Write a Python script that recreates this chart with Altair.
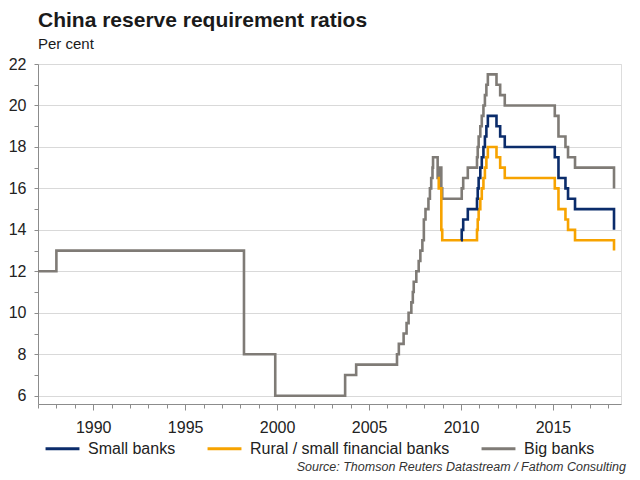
import altair as alt
import pandas as pd

FONT = "Liberation Sans"

series_names = ["Small banks", "Rural / small financial banks", "Big banks"]
series_colors = ["#0b2c6b", "#f7a300", "#7f7b76"]

big_years = [1987.0, 1988.0, 1998.2, 1999.9, 2003.7, 2004.3, 2006.52, 2006.62, 2006.88,
             2007.04, 2007.15, 2007.3, 2007.38, 2007.43, 2007.57, 2007.7, 2007.79, 2007.9,
             2007.98, 2008.07, 2008.23, 2008.31, 2008.38, 2008.45, 2008.48, 2008.73,
             2008.79, 2008.93, 2008.98, 2010.04, 2010.12, 2010.37, 2010.87, 2010.91,
             2010.96, 2011.05, 2011.13, 2011.22, 2011.3, 2011.38, 2011.46, 2011.93,
             2012.13, 2012.38, 2015.1, 2015.3, 2015.68, 2015.82, 2016.2, 2018.32]
big_ratio = [12, 13, 8, 6, 7, 7.5, 8, 8.5, 9, 9.5, 10, 10.5, 11, 11.5, 12, 12.5, 13, 13.5,
             14.5, 15, 15.5, 16, 16.5, 17, 17.5, 16.5, 17, 16, 15.5, 16, 16.5, 17, 17.5, 18,
             18.5, 19, 19.5, 20, 20.5, 21, 21.5, 21, 20.5, 20, 19.5, 18.5, 18, 17.5, 17, 16]

small_years = [2010.0, 2010.04, 2010.12, 2010.37, 2010.87, 2010.91, 2010.96, 2011.05,
               2011.13, 2011.22, 2011.3, 2011.38, 2011.46, 2011.93, 2012.13, 2012.38,
               2015.1, 2015.3, 2015.68, 2015.82, 2016.2, 2018.32]
small_ratio = [13.5, 14, 14.5, 15, 15.5, 16, 16.5, 17, 17.5, 18, 18.5, 19, 19.5, 19, 18.5,
               18, 17.5, 16.5, 16, 15.5, 15, 14]

rural_years = [2008.73, 2008.79, 2008.93, 2008.98, 2010.87, 2010.91, 2010.96, 2011.05,
               2011.13, 2011.22, 2011.3, 2011.38, 2011.46, 2011.93, 2012.13, 2012.38,
               2015.1, 2015.3, 2015.68, 2015.82, 2016.2, 2018.32]
rural_ratio = [16.5, 16, 14, 13.5, 14, 14.5, 15, 15.5, 16, 16.5, 17, 17.5, 18, 17.5, 17,
               16.5, 16, 15, 14.5, 14, 13.5, 13]

y_ticks = [6 + 0.5 * i for i in range(33)]
x_ticks = list(range(1987, 2019))

title_text = "China reserve requirement ratios"
unit_text = "Per cent"
source_text = "Source: Thomson Reuters Datastream / Fathom Consulting"

rows = []
for name, xs, ys in [("Big banks", big_years, big_ratio),
                     ("Rural / small financial banks", rural_years, rural_ratio),
                     ("Small banks", small_years, small_ratio)]:
    for x, y in zip(xs, ys):
        rows.append({"series": name, "year": x, "ratio": y})
df = pd.DataFrame(rows)

lines = alt.Chart(df).mark_line(interpolate="step-after", strokeWidth=2.6).encode(
    x=alt.X("year:Q", title=None,
            scale=alt.Scale(domain=[1987, 2018.7], nice=False, zero=False),
            axis=alt.Axis(values=x_ticks, format="d",
                          labelExpr="datum.value % 5 === 0 ? datum.label : ''",
                          grid=False,
                          tickSize={"condition": {"test": "datum.value % 5 === 0", "value": 6}, "value": 4},
                          tickColor="#8c8c8c", domainColor="#8c8c8c",
                          labelFont=FONT, labelFontSize=16, labelColor="#222222",
                          labelPadding=9)),
    y=alt.Y("ratio:Q", title=None,
            scale=alt.Scale(domain=[5.6, 22], nice=False, zero=False),
            axis=alt.Axis(values=y_ticks, format="d",
                          labelExpr="datum.value % 2 === 0 ? datum.label : ''",
                          grid=True, gridColor="#d9d9d9",
                          gridOpacity={"condition": {"test": "datum.value % 2 === 0", "value": 1}, "value": 0},
                          tickSize=4, tickColor="#8c8c8c", domainColor="#8c8c8c",
                          labelFont=FONT, labelFontSize=16, labelColor="#222222",
                          labelPadding=8)),
    color=alt.Color("series:N",
                    scale=alt.Scale(domain=series_names, range=series_colors),
                    legend=alt.Legend(title=None, orient="none", legendX=6, legendY=366,
                                      direction="horizontal", symbolType="stroke",
                                      symbolSize=1150, symbolStrokeWidth=3,
                                      labelFont=FONT, labelFontSize=16, labelColor="#222222",
                                      labelLimit=400, columnPadding=25, labelOffset=7)),
)

source = alt.Chart(pd.DataFrame({"t": [source_text]})).mark_text(
    align="right", baseline="alphabetic", font=FONT, fontSize=12.5,
    fontStyle="italic", color="#333333"
).encode(x=alt.value(588), y=alt.value(407), text="t:N")

chart = alt.layer(lines, source).properties(
    width=583, height=340,
    title=alt.TitleParams(title_text, subtitle=unit_text, anchor="start", frame="group",
                          font=FONT, fontSize=21, fontWeight="bold", color="#1a1a1a",
                          subtitleFont=FONT, subtitleFontSize=15, subtitleColor="#1a1a1a",
                          subtitlePadding=6, offset=4),
    padding={"left": 0, "top": 2, "right": 5, "bottom": 0},
).configure_view(stroke=None).configure(background="white")

chart.save("out.html", embed_options={"renderer": "svg", "actions": False})
